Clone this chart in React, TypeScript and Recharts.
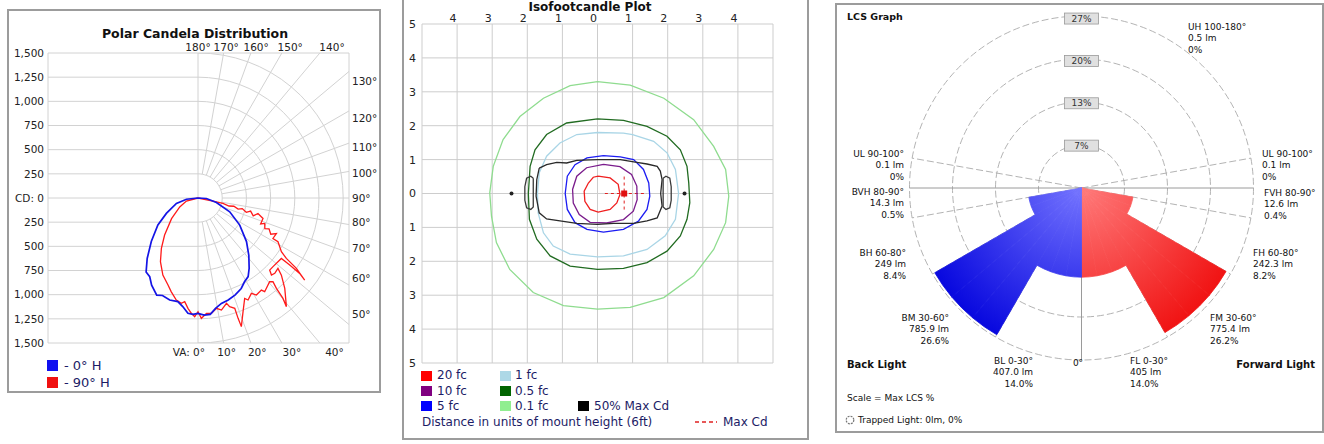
import React from 'react';
import {
  ScatterChart, Scatter, XAxis, YAxis, ReferenceLine, CartesianGrid,
  RadialBarChart, RadialBar, PolarAngleAxis, PolarRadiusAxis, PolarGrid, Cell,
} from 'recharts';

const RAD = Math.PI / 180;
const FONT = '"DejaVu Sans", Verdana, sans-serif';
const NAVY = '#1c1c66';

// ---------- Polar candela distribution: [vertical angle °, candela] ----------
// listed from nadir (0°) towards horizontal (90°)
const blue0H: [number, number][] = [
  [0, 1193], [3, 1213], [6, 1210], [9, 1156], [12.5, 1117], [16.5, 1100], [21, 1073], [25.5, 1037],
  [29, 991], [32.5, 964], [36, 899], [41.5, 792], [48, 674], [57, 514], [66.5, 357], [76, 196], [86.5, 87], [90, 0],
];
const blue180H: [number, number][] = [
  [0, 1193], [2.5, 1205], [5, 1197], [8, 1134], [11, 1092], [15.5, 1095], [20, 1073], [23, 1092],
  [28, 1021], [31.5, 955], [35, 935], [40, 817], [47, 660], [56, 500], [64, 364], [76, 230], [84, 120], [90, 0],
];
const red270H: [number, number][] = [
  [0, 1176], [1.6, 1228], [3.3, 1195], [5.2, 1146], [7.3, 1081], [9, 1103], [12, 1079], [16, 1007],
  [19, 952], [24.5, 876], [30.5, 765], [36, 644], [42, 516], [52, 347], [64, 210], [75, 124], [90, 0],
];
const red90H: [number, number][] = [
  [1.6, 1245], [4.2, 1196], [6.6, 1201], [9.5, 1157], [11.8, 1184], [15.1, 1129], [16.2, 1171], [18.4, 1203],
  [18.4, 1312], [18.6, 1404], [21.6, 1264], [24.9, 1145], [26.1, 1175], [29.2, 1130], [31, 1171], [34.5, 1156],
  [35.4, 1189], [40.5, 1139], [41.8, 1162], [40.9, 1237], [40.2, 1360], [39.1, 1448], [43.8, 1295], [47.2, 1174],
  [48.6, 1101], [45.5, 1112], [43.6, 1100], [44.8, 1051], [47.5, 1051], [54, 1064], [53.8, 1174], [53.4, 1308],
  [52.4, 1391], [54.4, 1250], [55.6, 1106], [57.2, 1025], [61.3, 942], [61.6, 880], [65.6, 889], [63.5, 840],
  [66.5, 800], [65.3, 760], [69.1, 738], [67.5, 700], [72.5, 704], [75.5, 640], [72, 600], [76, 560],
  [73.5, 520], [76.5, 470], [74.5, 430], [77, 380], [75.5, 330], [77.6, 264], [78, 158], [90, 0],
];
const cdTicks = [-1500, -1250, -1000, -750, -500, -250, 0, 250, 500, 750, 1000, 1250, 1500];
const rings = [250, 500, 750, 1000, 1250, 1500];
const spokeAngles = [10, 20, 30, 40, 50, 60, 70, 80, 90, 100, 110, 120, 130, 140, 150, 160, 170];
const topAngles = [180, 170, 160, 150, 140];
const rightAngles = [130, 120, 110, 100, 90, 80, 70, 60, 50];
const bottomAngles = [0, 10, 20, 30, 40];

// ---------- Isofootcandle contours: [x, y] in mount heights ----------
const fc01: [number, number][] = [
  [0, 3.3], [0.93, 3.2], [1.89, 2.81], [2.74, 2.18], [3.31, 1.39], [3.65, 0.71], [3.74, -0.08], [3.65, -0.86],
  [3.31, -1.65], [2.74, -2.43], [1.89, -3.07], [0.93, -3.36], [0, -3.41], [-0.97, -3.31], [-1.83, -2.92],
  [-2.5, -2.24], [-2.88, -1.45], [-3.02, -0.67], [-3.07, 0.02], [-2.97, 0.8], [-2.69, 1.59], [-2.21, 2.27],
  [-1.54, 2.81], [-0.78, 3.18],
];
const fc05: [number, number][] = [
  [0, 2.2], [0.74, 2.16], [1.41, 1.98], [1.98, 1.69], [2.36, 1.29], [2.55, 0.8], [2.6, 0.31], [2.63, -0.27],
  [2.55, -0.76], [2.36, -1.25], [1.98, -1.7], [1.41, -2.04], [0.74, -2.21], [0, -2.24], [-0.78, -2.14],
  [-1.35, -1.84], [-1.73, -1.35], [-1.94, -0.76], [-1.97, 0], [-1.92, 0.8], [-1.78, 1.29], [-1.45, 1.74], [-0.88, 2.08],
];
const fc1: [number, number][] = [
  [0, 1.8], [0.74, 1.78], [1.0, 1.74], [1.6, 1.54], [1.98, 1.2], [2.22, 0.71], [2.31, 0], [2.22, -0.76],
  [1.93, -1.25], [1.41, -1.65], [0.74, -1.84], [0, -1.87], [-0.78, -1.79], [-1.26, -1.55], [-1.54, -1.16],
  [-1.69, -0.57], [-1.71, 0], [-1.66, 0.61], [-1.45, 1.1], [-1.07, 1.49], [-0.59, 1.74],
];
const fc5: [number, number][] = [
  [0.17, 1.12], [0.65, 1.08], [1.03, 1.0], [1.31, 0.71], [1.46, 0.31], [1.49, -0.08], [1.41, -0.47], [1.17, -0.81],
  [0.74, -1.06], [0.17, -1.14], [-0.3, -1.06], [-0.64, -0.86], [-0.86, -0.47], [-0.92, 0], [-0.86, 0.51],
  [-0.64, 0.85], [-0.3, 1.05],
];
const fc10: [number, number][] = [
  [0.17, 0.86], [0.64, 0.79], [0.97, 0.56], [1.12, 0.22], [1.13, -0.18], [1.02, -0.52], [0.74, -0.77], [0.26, -0.87],
  [-0.21, -0.85], [-0.52, -0.62], [-0.69, -0.28], [-0.71, 0.12], [-0.59, 0.51], [-0.31, 0.76],
];
const fc20: [number, number][] = [
  [0.02, 0.51], [0.36, 0.46], [0.59, 0.27], [0.64, -0.03], [0.55, -0.28], [0.36, -0.47], [0.02, -0.55],
  [-0.21, -0.47], [-0.36, -0.23], [-0.38, 0.07], [-0.26, 0.31], [-0.12, 0.48],
];
const halfMaxCd: [number, number][] = [
  [-1.66, 0.75], [-1.45, 0.85], [-1.16, 0.92], [-0.88, 0.9], [-0.59, 0.98], [0, 1.0], [0.65, 1.0], [1.12, 0.92],
  [1.41, 0.87], [1.7, 0.8], [1.79, 0.66], [1.84, 0.41], [1.8, 0], [1.84, -0.37], [1.7, -0.72], [1.41, -0.81],
  [1.03, -0.88], [0.46, -0.88], [0, -0.91], [-0.59, -0.88], [-1.07, -0.81], [-1.45, -0.75], [-1.66, -0.57],
  [-1.75, -0.08], [-1.73, 0.41],
];
const halfMaxLobeL: [number, number][] = [
  [-1.83, 0.45], [-1.9, 0.51], [-2.02, 0.45], [-2.07, 0.2], [-2.07, -0.2], [-2.02, -0.42], [-1.9, -0.47], [-1.83, -0.4],
];
const halfMaxLobeR: [number, number][] = [
  [1.87, 0.45], [1.95, 0.51], [2.06, 0.45], [2.1, 0.2], [2.1, -0.2], [2.06, -0.42], [1.95, -0.47], [1.87, -0.4],
];
const endMarks: [number, number][] = [[-2.45, 0], [2.48, 0]];
const maxCd: [number, number] = [0.76, 0];
const isoTicks = [-5, -4, -3, -2, -1, 0, 1, 2, 3, 4, 5];

// ---------- LCS zones ----------
const zoneFrom = [0, 30, 60, 80, 90, 100];
const zoneTo = [30, 60, 80, 90, 100, 180];
const forwardPct = [14.0, 26.2, 8.2, 0.4, 0, 0];
const backPct = [14.0, 26.6, 8.4, 0.5, 0, 0];
const LCS_MAX = 26.6;
const lcsText: string[][] = [
  ['UL 90-100°', '0.1 lm', '0%'], ['BVH 80-90°', '14.3 lm', '0.5%'], ['BH 60-80°', '249 lm', '8.4%'],
  ['BM 30-60°', '785.9 lm', '26.6%'], ['BL 0-30°', '407.0 lm', '14.0%'],
  ['FL 0-30°', '405 lm', '14.0%'], ['FM 30-60°', '775.4 lm', '26.2%'], ['FH 60-80°', '242.3 lm', '8.2%'],
  ['FVH 80-90°', '12.6 lm', '0.4%'], ['UL 90-100°', '0.1 lm', '0%'], ['UH 100-180°', '0.5 lm', '0%'],
];
// label anchors (x, first-line y, alignment)
const lcsPos: [number, number, 'left' | 'right'][] = [
  [904, 154, 'right'], [904, 192, 'right'], [906, 253, 'right'], [949, 318, 'right'], [1033, 361, 'right'],
  [1130, 361, 'left'], [1210, 318, 'left'], [1253, 253, 'left'], [1264, 193, 'left'], [1262, 154, 'left'], [1188, 27, 'left'],
];

const noDot = () => <g />;
const pts = (a: [number, number][], close = false) => (close ? [...a, a[0]] : a).map(([x, y]) => ({ x, y }));

const Txt = ({ x, y, children, size = 9, bold = false, align = 'left', color = '#111' }: any) => (
  <div
    style={{
      position: 'absolute', left: x, top: y - size * 0.6, fontSize: size, lineHeight: `${size * 1.2}px`,
      fontWeight: bold ? 700 : 400, color, whiteSpace: 'nowrap', fontFamily: FONT,
      transform: align === 'right' ? 'translateX(-100%)' : align === 'center' ? 'translateX(-50%)' : undefined,
    }}
  >
    {children}
  </div>
);

const Swatch = ({ x, y, w = 11, h = 10, color }: any) => (
  <div style={{ position: 'absolute', left: x, top: y, width: w, height: h, background: color }} />
);

// ---------------- Panel 1 ----------------
const X_MIN = -1550;
const X_MAX = 1560;
const Y_LIM = 1500;
const GRID = '#d2d2d2';

function PolarCandela() {
  const toXY = (side: number) => ([va, cd]: [number, number]) => ({
    x: side * cd * Math.sin(va * RAD),
    y: -cd * Math.cos(va * RAD),
  });
  const bluePath = [...blue180H.map(toXY(-1)).reverse(), ...blue0H.map(toXY(1))];
  const redPath = [...red270H.map(toXY(-1)).reverse(), ...red90H.map(toXY(1))];
  const arcs = rings.map((r) =>
    Array.from({ length: 37 }, (_, i) => ({ x: r * Math.sin(i * 5 * RAD), y: -r * Math.cos(i * 5 * RAD) })),
  );
  const spokes = spokeAngles.map((va) => {
    const sx = Math.sin(va * RAD);
    const sy = -Math.cos(va * RAD);
    const t = Math.min(X_MAX / sx, Math.abs(sy) < 1e-6 ? 1e9 : Y_LIM / Math.abs(sy));
    return [{ x: 250 * sx, y: 250 * sy }, { x: t * sx, y: t * sy }];
  });
  const topTicks = topAngles.map((va) => 1.1 * Y_LIM * Math.tan((180 - va) * RAD));
  const bottomTicks = bottomAngles.map((va) => 1.12 * Y_LIM * Math.tan(va * RAD));
  const rightTicks = rightAngles.map((va) => 0.92 * X_MAX * Math.tan((va - 90) * RAD));
  const tickStyle = { fontSize: 10.5, fill: '#222', fontFamily: FONT };

  const BottomTick = (p: any) => {
    const first = p.index === 0;
    return (
      <text x={first ? p.x + 7 : p.x} y={p.y} dy="0.75em" textAnchor={first ? 'end' : 'middle'} {...tickStyle}>
        {first ? 'VA: 0°' : `${bottomAngles[p.index]}°`}
      </text>
    );
  };
  const TopTick = (p: any) => (
    <text x={p.x} y={p.y} textAnchor="middle" {...tickStyle}>{`${topAngles[p.index]}°`}</text>
  );

  const ax = { xAxisId: 'b', yAxisId: 'l' } as const;
  const border = [
    [{ x: X_MIN, y: Y_LIM }, { x: X_MAX, y: Y_LIM }],
    [{ x: X_MIN, y: -Y_LIM }, { x: X_MAX, y: -Y_LIM }],
    [{ x: X_MIN, y: -Y_LIM }, { x: X_MIN, y: Y_LIM }],
    [{ x: X_MAX, y: -Y_LIM }, { x: X_MAX, y: Y_LIM }],
    [{ x: 0, y: -Y_LIM }, { x: 0, y: Y_LIM }],
  ];

  return (
    <>
      <div style={{ position: 'absolute', left: 7, top: 9, width: 374, height: 384, border: '2px solid #9c9c9c', boxSizing: 'border-box' }} />
      <Txt x={195} y={33} size={12.5} bold align="center" color="#111">Polar Candela Distribution</Txt>
      <div style={{ position: 'absolute', left: 8, top: 10 }}>
        <ScatterChart width={373} height={383} margin={{ top: 29, right: 4, bottom: 34, left: 4 }}>
          <XAxis xAxisId="b" type="number" dataKey="x" domain={[X_MIN, X_MAX]} allowDataOverflow ticks={bottomTicks}
            interval={0} tick={BottomTick} axisLine={false} tickLine={false} tickSize={3} tickMargin={2} height={16} />
          <XAxis xAxisId="t" orientation="top" type="number" dataKey="x" domain={[X_MIN, X_MAX]} allowDataOverflow ticks={topTicks}
            interval={0} tick={TopTick} axisLine={false} tickLine={false} tickSize={0} tickMargin={2} height={14} />
          <YAxis yAxisId="l" type="number" dataKey="y" domain={[-Y_LIM, Y_LIM]} allowDataOverflow ticks={cdTicks}
            interval={0} tickFormatter={(v: number) => (v === 0 ? 'CD:\u00A00' : Math.abs(v).toLocaleString('en-US'))}
            tick={tickStyle} axisLine={false} tickLine={false} tickSize={2} tickMargin={2} width={36} />
          <YAxis yAxisId="r" orientation="right" type="number" dataKey="y" domain={[-Y_LIM, Y_LIM]} allowDataOverflow ticks={rightTicks}
            interval={0} tickFormatter={(_v: number, i: number) => `${rightAngles[i]}°`} tick={tickStyle}
            axisLine={false} tickLine={false} tickSize={1} tickMargin={2} width={28} />

          {cdTicks.filter((v) => Math.abs(v) < Y_LIM).map((v) => (
            <ReferenceLine key={`h${v}`} {...ax} segment={[{ x: X_MIN, y: v }, { x: 0, y: v }]} stroke={GRID} ifOverflow="visible" />
          ))}
          {spokes.map((s, i) => (
            <ReferenceLine key={`s${i}`} {...ax} segment={s} stroke={GRID} ifOverflow="visible" />
          ))}
          {border.map((s, i) => (
            <ReferenceLine key={`e${i}`} {...ax} segment={s} stroke={GRID} ifOverflow="visible" />
          ))}
          {arcs.map((a, i) => (
            <Scatter key={`a${i}`} {...ax} data={a} line={{ stroke: GRID, strokeWidth: 1 }} shape={noDot} isAnimationActive={false} />
          ))}
          <Scatter xAxisId="t" yAxisId="r" data={[{ x: 0, y: 0 }]} shape={noDot} isAnimationActive={false} />
          <Scatter {...ax} data={redPath} line={{ stroke: '#ff1a1a', strokeWidth: 1.3 }} shape={noDot} isAnimationActive={false} />
          <Scatter {...ax} data={bluePath} line={{ stroke: '#1414e6', strokeWidth: 1.7 }} shape={noDot} isAnimationActive={false} />
        </ScatterChart>
      </div>
      <Swatch x={47} y={360} w={11} h={11} color="#1010f0" />
      <Txt x={64} y={365.5} size={13} color={NAVY}>- 0° H</Txt>
      <Swatch x={47} y={377} w={11} h={11} color="#f01010" />
      <Txt x={64} y={382.5} size={13} color={NAVY}>- 90° H</Txt>
    </>
  );
}

// ---------------- Panel 2 ----------------
function Isofootcandle() {
  const contours: [[number, number][], string][] = [
    [fc01, '#8fdc8f'], [fc05, '#216b21'], [fc1, '#a9d5e6'], [fc5, '#1c1cf2'], [fc10, '#7a1c8c'], [fc20, '#f02020'],
    [halfMaxCd, '#2a2a2a'], [halfMaxLobeL, '#3a3a3a'], [halfMaxLobeR, '#3a3a3a'],
  ];
  const small = { fontSize: 11, fill: '#222', fontFamily: FONT };
  return (
    <>
      <div style={{ position: 'absolute', left: 402, top: -10, width: 407, height: 450, border: '2px solid #9c9c9c', boxSizing: 'border-box' }} />
      <Txt x={590} y={7} size={12} bold align="center" color="#111">Isofootcandle Plot</Txt>
      <div style={{ position: 'absolute', left: 403, top: 0 }}>
        <ScatterChart width={405} height={370} margin={{ top: 8, right: 35, bottom: 7, left: 0 }}>
          <CartesianGrid stroke="#cdcdcd" />
          <XAxis type="number" dataKey="x" orientation="top" domain={[-5, 5]} allowDataOverflow ticks={isoTicks} interval={0}
            tickFormatter={(v: number) => (Math.abs(v) === 5 ? '' : String(Math.abs(v)))} tick={{ ...small, dx: -4 }}
            axisLine={false} tickLine={false} tickSize={0} tickMargin={2} height={16} />
          <YAxis type="number" dataKey="y" domain={[-5, 5]} allowDataOverflow ticks={isoTicks} interval={0}
            tickFormatter={(v: number) => String(Math.abs(v))} tick={small}
            axisLine={false} tickLine={false} tickSize={2} tickMargin={4} width={19} />
          {contours.map(([c, col], i) => (
            <Scatter key={i} data={pts(c, true)} line={{ stroke: col, strokeWidth: 1.3 }} shape={noDot} isAnimationActive={false} />
          ))}
          <ReferenceLine segment={[{ x: maxCd[0] - 0.55, y: maxCd[1] }, { x: maxCd[0] + 0.65, y: maxCd[1] }]}
            stroke="#e02020" strokeDasharray="3 3" ifOverflow="visible" />
          <ReferenceLine segment={[{ x: maxCd[0], y: maxCd[1] + 0.5 }, { x: maxCd[0], y: maxCd[1] - 0.5 }]}
            stroke="#e02020" strokeDasharray="3 3" ifOverflow="visible" />
          <Scatter data={pts(endMarks)} isAnimationActive={false}
            shape={(p: any) => <circle cx={p.cx} cy={p.cy} r={2} fill="#222" />} />
          <Scatter data={pts([maxCd])} isAnimationActive={false}
            shape={(p: any) => <rect x={p.cx - 3} y={p.cy - 3} width={6} height={6} fill="#e01010" />} />
        </ScatterChart>
      </div>
      <Swatch x={421} y={371} color="#ff0000" />
      <Txt x={437} y={375.5} size={12} color={NAVY}>20 fc</Txt>
      <Swatch x={421} y={386} color="#800080" />
      <Txt x={437} y={391} size={12} color={NAVY}>10 fc</Txt>
      <Swatch x={421} y={401} color="#0000ff" />
      <Txt x={437} y={406} size={12} color={NAVY}>5 fc</Txt>
      <Swatch x={500} y={371} color="#add8e6" />
      <Txt x={515} y={375.5} size={12} color={NAVY}>1 fc</Txt>
      <Swatch x={500} y={386} color="#006400" />
      <Txt x={515} y={391} size={12} color={NAVY}>0.5 fc</Txt>
      <Swatch x={500} y={401} color="#90ee90" />
      <Txt x={515} y={406} size={12} color={NAVY}>0.1 fc</Txt>
      <Swatch x={578} y={401} color="#000000" />
      <Txt x={594} y={406} size={12} color={NAVY}>50% Max Cd</Txt>
      <Txt x={422} y={422} size={12} color={NAVY}>Distance in units of mount height (6ft)</Txt>
      <svg style={{ position: 'absolute', left: 694, top: 418 }} width={24} height={8}>
        <line x1={1} y1={4} x2={23} y2={4} stroke="#e02020" strokeWidth={1.3} strokeDasharray="4 3" />
      </svg>
      <Txt x={723} y={422} size={12} color={NAVY}>Max Cd</Txt>
    </>
  );
}

// ---------------- Panel 3 ----------------
function LcsGraph() {
  const zoneOf = (v: number) => zoneFrom.findIndex((f, i) => v >= f && v < zoneTo[i]);
  const slices = [
    ...Array.from({ length: 18 }, (_, i) => ({ slice: `F${i * 10}`, pct: forwardPct[zoneOf(i * 10)], side: 'f' })),
    ...Array.from({ length: 18 }, (_, i) => ({ slice: `B${170 - i * 10}`, pct: backPct[zoneOf(170 - i * 10)], side: 'b' })),
  ];
  const ringTicks = [0.25, 0.5, 0.75, 1].map((f) => f * LCS_MAX);
  const RingTick = (p: any) => (
    <g>
      <rect x={p.x - 17} y={p.y - 5.5} width={34} height={11} fill="#e0e0e0" stroke="#9a9a9a" strokeWidth={0.8} />
      <text x={p.x} y={p.y} dy="0.35em" textAnchor="middle" fontSize={9} fontFamily={FONT} fill="#333">
        {`${Math.round(p.payload.value)}%`}
      </text>
    </g>
  );
  return (
    <>
      <div style={{ position: 'absolute', left: 835, top: 3, width: 489, height: 430, border: '2px solid #9c9c9c', boxSizing: 'border-box' }} />
      <div style={{ position: 'absolute', left: 836, top: 3 }}>
        <RadialBarChart width={487} height={430} cx={245.5} cy={185} innerRadius={0} outerRadius={172}
          startAngle={-80} endAngle={280} data={slices} layout="centric" barCategoryGap={0} barGap={0}>
          <defs>
            <radialGradient id="lcsBlue" gradientUnits="userSpaceOnUse" cx={245.5} cy={185} r={172}>
              <stop offset="0%" stopColor="#7474ff" />
              <stop offset="100%" stopColor="#0606de" />
            </radialGradient>
            <radialGradient id="lcsRed" gradientUnits="userSpaceOnUse" cx={245.5} cy={185} r={172}>
              <stop offset="0%" stopColor="#ff7a7a" />
              <stop offset="100%" stopColor="#f01010" />
            </radialGradient>
          </defs>
          <PolarAngleAxis type="category" dataKey="slice" tick={false} axisLine={false} tickLine={false} />
          <RadialBar dataKey="pct" isAnimationActive={false}>
            {slices.map((s, i) => {
              const paint = s.side === 'b' ? 'url(#lcsBlue)' : 'url(#lcsRed)';
              return <Cell key={i} fill={paint} stroke={paint} strokeWidth={0.8} />;
            })}
          </RadialBar>
          <PolarGrid gridType="circle" polarRadius={[43, 86, 129, 172]} polarAngles={[10, 170]} innerRadius={43}
            stroke="#a6a6a6" strokeOpacity={0.85} strokeDasharray="7 3" />
          <PolarGrid gridType="circle" polarRadius={[0.1]} polarAngles={[-60, -30, -10, 190, 210, 240]}
            stroke="#a6a6a6" strokeOpacity={0.85} strokeDasharray="7 3" />
          <PolarGrid gridType="circle" polarRadius={[0.1]} polarAngles={[0, 180, 270]} stroke="#9a9a9a" />
          <PolarRadiusAxis type="number" domain={[0, LCS_MAX]} allowDataOverflow angle={90} ticks={ringTicks}
            tick={RingTick} axisLine={false} tickLine={false} />
        </RadialBarChart>
      </div>
      <Txt x={847} y={17} size={9.5} bold>LCS Graph</Txt>
      {lcsText.map((lines, i) => (
        lines.map((t, j) => (
          <Txt key={`${i}-${j}`} x={lcsPos[i][0]} y={lcsPos[i][1] + j * 11.5} size={9} align={lcsPos[i][2]}>{t}</Txt>
        ))
      ))}
      <Txt x={1078} y={363} size={9} align="center">0°</Txt>
      <Txt x={847} y={365} size={10} bold>Back Light</Txt>
      <Txt x={1315} y={365} size={10} bold align="right">Forward Light</Txt>
      <Txt x={847} y={398} size={9}>Scale = Max LCS %</Txt>
      <svg style={{ position: 'absolute', left: 845, top: 415 }} width={10} height={10}>
        <circle cx={5} cy={5} r={3.8} fill="none" stroke="#777" strokeWidth={1.2} strokeDasharray="2 1" />
      </svg>
      <Txt x={858} y={420} size={9}>Trapped Light: 0lm, 0%</Txt>
    </>
  );
}

export default function App() {
  return (
    <div style={{ position: 'absolute', left: 0, top: 0, width: 1324, height: 444, background: '#fff', overflow: 'hidden', fontFamily: FONT }}>
      <PolarCandela />
      <Isofootcandle />
      <LcsGraph />
    </div>
  );
}
